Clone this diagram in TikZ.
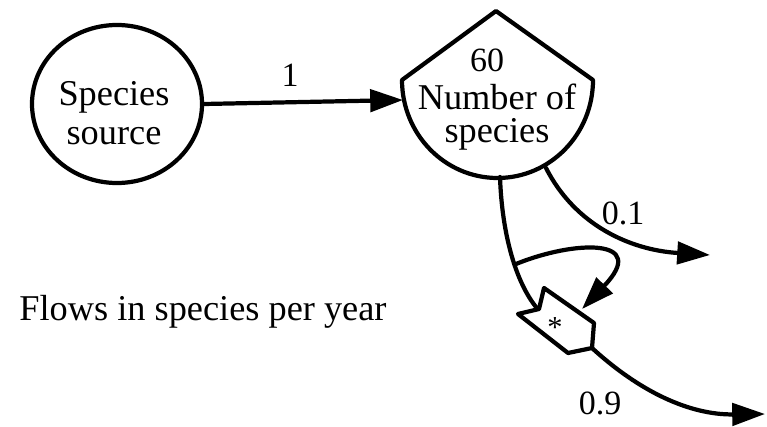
\documentclass[tikz,border=0pt]{standalone}
\usepackage{fontspec}
\setmainfont{Liberation Serif}
\usetikzlibrary{arrows.meta, shapes.geometric}
\begin{document}
\begin{tikzpicture}[x=0.03cm, y=-0.03cm, line width=3.6pt, line join=round, line cap=round,
    font=\fontsize{31}{33}\selectfont,
    flow/.style={-{Triangle[length=28pt, width=19pt]}},
    lbl/.style={inner sep=0pt},
    num/.style={inner sep=0pt, font=\fontsize{29}{31}\selectfont}]
  \useasboundingbox (0,0) rectangle (767,427);

  % source
  \node[draw, ellipse, minimum width=5.1cm, minimum height=4.74cm, inner sep=0pt] (src) at (117,104) {};
  \node[lbl, align=center, font=\fontsize{31}{33}\selectfont] (srctext) at (114,113) {Species\\source};

  % stock: pointed roof, round bottom
  \coordinate (tankL) at (402,80);
  \coordinate (tankT) at (496,11);
  \coordinate (tankR) at (593,80);
  \draw (tankL) -- (tankT) -- (tankR) arc[start angle=0, end angle=180, x radius=95.5, y radius=98] -- cycle;
  \node[num] (stockval) at (487,60) {60};
  \node[lbl, align=center, font=\fontsize{31}{28}\selectfont] (stock) at (497,117) {Number of\\species};
  \coordinate (tankin) at (403,100);
  \coordinate (tankbot) at (500,177);
  \coordinate (tankout) at (546,168);

  % converter
  \coordinate (cL) at (518,314);
  \coordinate (cN) at (539,309);
  \coordinate (cT) at (544,288);
  \coordinate (cR) at (594,323);
  \coordinate (cRB) at (592,348);
  \coordinate (cB) at (568,353);
  \draw (cL) -- (cN) -- (cT) -- (cR) -- (cRB) -- (cB) -- cycle;
  \node[lbl, font=\fontsize{26}{28}\selectfont] (conv) at (555,328) {*};
  \coordinate (convin) at (536,307);
  \coordinate (loopstart) at (516,264);
  \coordinate (looptip) at (582,309);

  % flows
  \draw[flow] (src.east) -- (tankin);
  \draw[flow] (tankout) .. controls (575,225) and (630,250) .. (710,255);
  \draw (tankbot) .. controls (502,235) and (516,282) .. (convin);
  \draw[flow] (loopstart) .. controls (575,240) and (650,238) .. (looptip);
  \draw[flow] (cRB) .. controls (640,392) and (690,415) .. (765,414);

  % rates
  \node[num] (inrate) at (290,75) {1};
  \node[num] (outrate) at (623,213) {0.1};
  \node[num] (convrate) at (600,403) {0.9};

  \node[lbl] (units) at (203,312) {Flows in species per year};
\end{tikzpicture}
\end{document}
